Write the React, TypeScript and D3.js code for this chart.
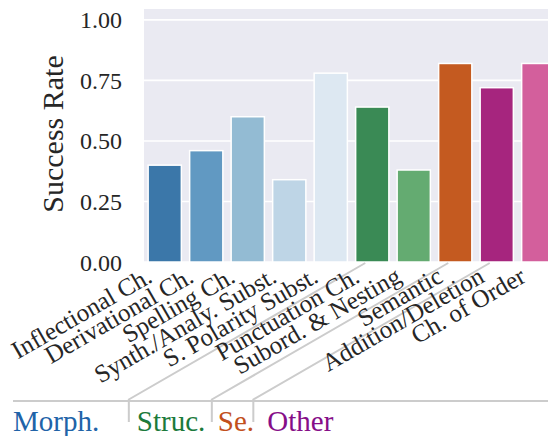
import React from 'react';
import * as d3 from 'd3';

// Error categories and their success rates
const categories = [
  'Inflectional Ch.',
  'Derivational Ch.',
  'Spelling Ch.',
  'Synth./Analy. Subst.',
  'S. Polarity Subst.',
  'Punctuation Ch.',
  'Subord. & Nesting',
  'Semantic',
  'Addition/Deletion',
  'Ch. of Order',
];
const successRates = [0.40, 0.46, 0.60, 0.34, 0.78, 0.64, 0.38, 0.82, 0.72, 0.82];
const barColors = [
  '#3b77a9', '#6199c2', '#93bbd3', '#bed5e6', '#dde8f2',
  '#3a8a55', '#64ab71', '#c45a20', '#a6257e', '#d35f9c',
];

const yTicks = [0, 0.25, 0.5, 0.75, 1.0];

const groupNames = ['Morph.', 'Struc.', 'Se.', 'Other'];
const groupSizes = [5, 2, 1, 2];
const groupColors = ['#2163a8', '#1b7a3b', '#c2501c', '#860e88'];

const W = 548;
const H = 436;
const plot = { left: 144, right: 559, top: 9, bottom: 262 };
const FONT = '"Liberation Serif"';

export default function App() {
  const x = d3.scaleBand<string>()
    .domain(categories)
    .range([plot.left, plot.right])
    .paddingInner(0.2)
    .paddingOuter(0.1);

  const y = d3.scaleLinear()
    .domain([0, 1.045])
    .range([plot.bottom, plot.top]);

  const center = (i: number) => (x(categories[i]) || 0) + x.bandwidth() / 2;

  // group separators start at the first bar of each group after the first
  const starts: number[] = [];
  groupSizes.reduce((acc, n) => { starts.push(acc); return acc + n; }, 0);

  const slope = Math.tan((30 * Math.PI) / 180);
  const cornerY = 399.5;
  const seps = starts.slice(1).map((s) => {
    const ex = center(s) - 7;
    const ey = plot.bottom + 1;
    const cx = ex - (cornerY - ey) / slope;
    return { ex, ey, cx };
  });
  const labelOffsets = [8, 6, 14];

  return (
    <div style={{ position: 'fixed', left: 0, top: 0, fontFamily: FONT }}>
      <svg width={W} height={H} style={{ display: 'block', background: '#fff', fontFamily: FONT }}>
        <rect
          x={plot.left}
          y={plot.top}
          width={W - plot.left}
          height={plot.bottom - plot.top}
          fill="#eaeaf2"
        />
        {yTicks.map((t) => (
          <line
            key={t}
            x1={plot.left}
            x2={W}
            y1={y(t)}
            y2={y(t)}
            stroke="#fff"
            strokeWidth={1.6}
          />
        ))}
        {categories.map((c, i) => (
          <rect
            key={c}
            x={x(c)}
            y={y(successRates[i])}
            width={x.bandwidth()}
            height={y(0) - y(successRates[i])}
            fill={barColors[i]}
            stroke="#fff"
            strokeWidth={1.5}
          />
        ))}

        {yTicks.map((t) => (
          <text
            key={t}
            x={122}
            y={y(t) + 8.5}
            textAnchor="end"
            fontSize={24}
            fill="#262626"
            style={{ fontFamily: FONT }}
          >
            {t.toFixed(2)}
          </text>
        ))}
        <text
          transform="translate(63,134) rotate(-90)"
          textAnchor="middle"
          fontSize={30}
          fill="#262626"
          style={{ fontFamily: FONT }}
        >
          Success Rate
        </text>

        {seps.map((s, i) => (
          <path
            key={i}
            d={`M${s.ex},${s.ey} L${s.cx},${cornerY} L${s.cx},422`}
            fill="none"
            stroke="#cccccc"
            strokeWidth={2}
          />
        ))}
        <line x1={13} x2={W} y1={401} y2={401} stroke="#cccccc" strokeWidth={2} />

        {categories.map((c, i) => (
          <text
            key={c}
            transform={`translate(${center(i) - 11},281) rotate(-30)`}
            textAnchor="end"
            fontSize={25}
            fill="#262626"
            style={{ fontFamily: FONT }}
          >
            {c}
          </text>
        ))}

        {groupNames.map((g, i) => (
          <text
            key={g}
            x={i === 0 ? 13 : seps[i - 1].cx + labelOffsets[i - 1]}
            y={431}
            fontSize={29}
            fill={groupColors[i]}
            style={{ fontFamily: FONT }}
          >
            {g}
          </text>
        ))}
      </svg>
    </div>
  );
}
